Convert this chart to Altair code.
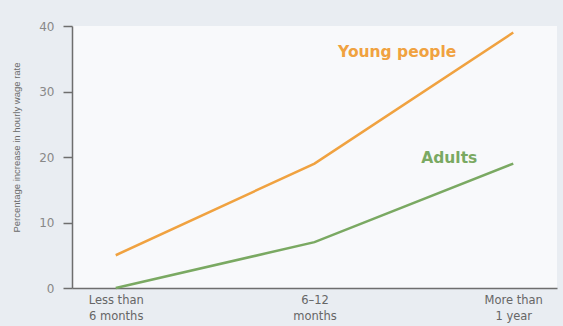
import altair as alt
import pandas as pd

categories = ["Less than 6 months", "6–12 months", "More than 1 year"]
tick_lines = {"Less than 6 months": ["Less than", "6 months"],
              "6–12 months": ["6–12", "months"],
              "More than 1 year": ["More than", "1 year"]}
young = [5, 19, 39]
adults = [0, 7, 19]
series_names = ["Young people", "Adults"]
colors = ["#f0a240", "#7aa962"]

rows = []
for name, vals in zip(series_names, [young, adults]):
    for c, v in zip(categories, vals):
        rows.append({"period": c, "value": v, "series": name})
df = pd.DataFrame(rows)

lab_df = pd.DataFrame({
    "period": [categories[2], categories[2]],
    "value": [young[2], adults[2]],
    "series": series_names,
})

label_expr = " : ".join(
    [f"datum.label == '{k}' ? ['{v[0]}', '{v[1]}']" for k, v in tick_lines.items()]
) + " : datum.label"

axis_col = "#6e6e6e"
x = alt.X("period:N", sort=categories,
          scale=alt.Scale(type="point", padding=0.22),
          axis=alt.Axis(title=None, labelExpr=label_expr,
                        labelAngle=0, labelFontSize=11.5, labelColor="#666",
                        labelFont="DejaVu Sans", labelPadding=6,
                        ticks=False, domainColor=axis_col, domainWidth=1.5,
                        labelLineHeight=16, grid=False))
y = alt.Y("value:Q", scale=alt.Scale(domain=[0, 40], nice=False),
          axis=alt.Axis(values=[0, 10, 20, 30, 40], title="Percentage increase in hourly wage rate",
                        titleFontSize=9.5, titleFontWeight="normal", titleColor="#6a6a6a",
                        titleFont="Liberation Sans", titleX=-56, titleY=121,
                        titleAngle=270, titleAlign="center", titleBaseline="middle",
                        labelFontSize=12, labelColor="#888", labelFont="DejaVu Sans",
                        tickSize=9, tickColor=axis_col, tickWidth=1.5, labelPadding=9,
                        domainColor=axis_col, domainWidth=1.5, grid=False))
color = alt.Color("series:N", scale=alt.Scale(domain=series_names, range=colors), legend=None)

lines = alt.Chart(df).mark_line(strokeWidth=2.5).encode(x=x, y=y, color=color)

lab_young = alt.Chart(lab_df[lab_df.series == "Young people"]).mark_text(
    align="right", baseline="middle", dx=-57, dy=19, fontWeight="bold", fontSize=15.5,
    font="DejaVu Sans").encode(x=x, y=y, text="series:N", color=color)
lab_adult = alt.Chart(lab_df[lab_df.series == "Adults"]).mark_text(
    align="right", baseline="middle", dx=-36, dy=-6, fontWeight="bold", fontSize=15.5,
    font="DejaVu Sans").encode(x=x, y=y, text="series:N", color=color)

chart = (lines + lab_young + lab_adult).properties(
    width=485, height=262,
    autosize=alt.AutoSizeParams(type="none"),
    padding={"left": 72, "top": 26, "right": 6, "bottom": 38},
    background="#e9edf2",
).configure_view(fill="#f8f9fb", stroke=None)

chart.save("out.html", embed_options={"renderer": "svg", "actions": False})
